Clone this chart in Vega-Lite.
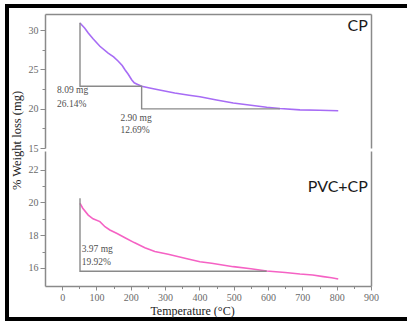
{
  "$schema": "https://vega.github.io/schema/vega-lite/v6.json",
  "width": 400,
  "height": 313,
  "autosize": {"type": "none"},
  "padding": {"left": 7, "top": 6, "right": 0, "bottom": 3},
  "background": "white",
  "config": {
    "view": {"stroke": "#000000", "strokeWidth": 4, "strokeDash": [400, 313, 900]},
    "axis": {"grid": false, "labelFlush": false, "domainColor": "#8a8a8a", "domainWidth": 1.5, "tickColor": "#8a8a8a", "tickWidth": 1, "labelFont": "Liberation Serif", "labelFontSize": 10, "labelColor": "#6a6a6a"},
    "style": {"guide-label": {"font": "Liberation Serif", "fontSize": 10, "fill": "#6a6a6a"}}
  },
  "datasets": {
    "cp": [
      {"t": 51.9, "w": 30.91}, {"t": 66, "w": 30.25}, {"t": 76, "w": 29.64}, {"t": 90, "w": 28.9},
      {"t": 110, "w": 27.95}, {"t": 134, "w": 27.09}, {"t": 150, "w": 26.6}, {"t": 163.5, "w": 26.04},
      {"t": 175, "w": 25.5}, {"t": 183, "w": 24.97}, {"t": 193, "w": 24.35}, {"t": 202.5, "w": 23.7},
      {"t": 210, "w": 23.3}, {"t": 217, "w": 23.15}, {"t": 231.6, "w": 22.85}, {"t": 255, "w": 22.65},
      {"t": 280, "w": 22.42}, {"t": 328, "w": 22.0}, {"t": 370, "w": 21.72}, {"t": 401.5, "w": 21.53},
      {"t": 450, "w": 21.11}, {"t": 498.6, "w": 20.72}, {"t": 550, "w": 20.45}, {"t": 596, "w": 20.18},
      {"t": 634.6, "w": 20.02}, {"t": 693, "w": 19.86}, {"t": 750, "w": 19.8}, {"t": 804.5, "w": 19.74}
    ],
    "pvc": [
      {"t": 51.9, "w": 19.95}, {"t": 60, "w": 19.65}, {"t": 76, "w": 19.23}, {"t": 90, "w": 19.0},
      {"t": 110, "w": 18.83}, {"t": 124.7, "w": 18.52}, {"t": 139, "w": 18.32}, {"t": 160, "w": 18.1},
      {"t": 183, "w": 17.85}, {"t": 210, "w": 17.55}, {"t": 241, "w": 17.24}, {"t": 270, "w": 17.0},
      {"t": 309, "w": 16.84}, {"t": 367, "w": 16.55}, {"t": 401.5, "w": 16.38}, {"t": 435.6, "w": 16.29},
      {"t": 498.6, "w": 16.08}, {"t": 550, "w": 15.95}, {"t": 596, "w": 15.82}, {"t": 650, "w": 15.72},
      {"t": 693, "w": 15.63}, {"t": 730, "w": 15.57}, {"t": 761, "w": 15.47}, {"t": 785, "w": 15.4},
      {"t": 804.5, "w": 15.33}
    ],
    "cpAnn": [
      {"t": 52, "w": 30.95, "o": 0}, {"t": 52, "w": 22.87, "o": 1}, {"t": 231.6, "w": 22.87, "o": 2},
      {"t": 231.6, "w": 19.98, "o": 3}, {"t": 634.6, "w": 19.98, "o": 4}
    ],
    "pvcAnn": [
      {"t": 52, "w": 20.25, "o": 0}, {"t": 52, "w": 15.8, "o": 1}, {"t": 596, "w": 15.8, "o": 2}
    ],
    "cpText": [
      {"t": -15, "w": 22.35, "s": "8.09 mg"}, {"t": -15, "w": 20.54, "s": "26.14%"},
      {"t": 170, "w": 18.88, "s": "2.90 mg"}, {"t": 170, "w": 17.29, "s": "12.69%"}
    ],
    "pvcText": [
      {"t": 57, "w": 17.16, "s": "3.97 mg"}, {"t": 57, "w": 16.38, "s": "19.92%"}
    ],
    "cpLabel": [{"t": 891, "w": 30.47, "s": "CP"}],
    "pvcLabel": [{"t": 891, "w": 20.94, "s": "PVC+CP"}]
  },
  "resolve": {"scale": {"y": "independent"}, "axis": {"x": "independent", "y": "independent"}},
  "layer": [
    {
      "resolve": {"axis": {"x": "independent", "y": "independent"}},
      "layer": [
        {
          "data": {"name": "cp"},
          "mark": {"type": "line", "color": "#a76cf5", "strokeWidth": 1.6},
          "encoding": {
            "x": {"field": "t", "type": "quantitative", "scale": {"domain": [-50, 900], "range": [38, 364]},
                  "axis": {"orient": "top", "offset": -8, "domain": true, "ticks": false, "labels": false, "title": null}},
            "y": {"field": "w", "type": "quantitative", "scale": {"domain": [15, 32.06], "range": [142, 8], "zero": false, "nice": false},
                  "axis": {"orient": "left", "offset": -38, "values": [15, 20, 25, 30], "tickSize": 5, "labelPadding": 2,
                           "labelFont": "Liberation Serif", "labelFontSize": 10, "labelColor": "#6a6a6a",
                           "title": "% Weight loss (mg)", "titleFont": "Liberation Serif", "titleFontSize": 12.5, "titleFontWeight": "normal",
                           "titleColor": "#222222", "titleX": -29, "titleY": 134, "titleAngle": 270, "titleAlign": "center", "titleBaseline": "middle"}}
          }
        },
        {
          "data": {"name": "cpAnn"},
          "mark": {"type": "line", "color": "#8a8a8a", "strokeWidth": 1.4},
          "encoding": {
            "x": {"field": "t", "type": "quantitative", "scale": {"domain": [-50, 900], "range": [38, 364]}, "axis": null},
            "y": {"field": "w", "type": "quantitative", "scale": {"domain": [15, 32.06], "range": [142, 8], "zero": false, "nice": false},
                  "axis": {"orient": "left", "offset": -38, "values": [17.5, 22.5, 27.5], "domain": false, "tickSize": 3, "labels": false, "title": null}},
            "order": {"field": "o", "type": "quantitative"}
          }
        },
        {
          "data": {"name": "cpText"},
          "mark": {"type": "text", "align": "left", "baseline": "middle", "font": "Liberation Serif", "fontSize": 9.5, "color": "#505050"},
          "encoding": {
            "x": {"field": "t", "type": "quantitative", "scale": {"domain": [-50, 900], "range": [38, 364]}, "axis": null},
            "y": {"field": "w", "type": "quantitative", "scale": {"domain": [15, 32.06], "range": [142, 8], "zero": false, "nice": false},
                  "axis": {"orient": "right", "offset": -36, "domain": true, "ticks": false, "labels": false, "title": null}},
            "text": {"field": "s"}
          }
        },
        {
          "data": {"name": "cpLabel"},
          "mark": {"type": "text", "align": "right", "baseline": "middle", "font": "Lato", "fontSize": 16, "color": "#1a1a1a"},
          "encoding": {
            "x": {"field": "t", "type": "quantitative", "scale": {"domain": [-50, 900], "range": [38, 364]}, "axis": null},
            "y": {"field": "w", "type": "quantitative", "scale": {"domain": [15, 32.06], "range": [142, 8], "zero": false, "nice": false}, "axis": null},
            "text": {"field": "s"}
          }
        }
      ]
    },
    {
      "resolve": {"axis": {"x": "independent", "y": "independent"}},
      "layer": [
        {
          "data": {"name": "pvc"},
          "mark": {"type": "line", "color": "#f562c4", "strokeWidth": 1.6},
          "encoding": {
            "x": {"field": "t", "type": "quantitative", "scale": {"domain": [-50, 900], "range": [38, 364]},
                  "axis": {"orient": "bottom", "offset": -33, "values": [0, 100, 200, 300, 400, 500, 600, 700, 800, 900], "tickSize": 4, "labelPadding": 2,
                           "labelFont": "Liberation Serif", "labelFontSize": 10, "labelColor": "#6a6a6a",
                           "title": "Temperature (°C)", "titleFont": "Liberation Serif", "titleFontSize": 12, "titleFontWeight": "normal", "titleColor": "#222222",
                           "titleX": 185, "titleY": 28, "titleAlign": "center", "titleBaseline": "alphabetic"}},
            "y": {"field": "w", "type": "quantitative", "scale": {"domain": [14.9, 23.14], "range": [280, 145], "zero": false, "nice": false},
                  "axis": {"orient": "left", "offset": -38, "values": [16, 18, 20, 22], "tickSize": 5, "labelPadding": 2,
                           "labelFont": "Liberation Serif", "labelFontSize": 10, "labelColor": "#6a6a6a", "title": null}}
          }
        },
        {
          "data": {"name": "pvcAnn"},
          "mark": {"type": "line", "color": "#8a8a8a", "strokeWidth": 1.4},
          "encoding": {
            "x": {"field": "t", "type": "quantitative", "scale": {"domain": [-50, 900], "range": [38, 364]},
                  "axis": {"orient": "bottom", "offset": -33, "values": [50, 150, 250, 350, 450, 550, 650, 750, 850], "domain": false, "tickSize": 2.5, "labels": false, "title": null}},
            "y": {"field": "w", "type": "quantitative", "scale": {"domain": [14.9, 23.14], "range": [280, 145], "zero": false, "nice": false},
                  "axis": {"orient": "left", "offset": -38, "values": [17, 19, 21], "domain": false, "tickSize": 3, "labels": false, "title": null}},
            "order": {"field": "o", "type": "quantitative"}
          }
        },
        {
          "data": {"name": "pvcText"},
          "mark": {"type": "text", "align": "left", "baseline": "middle", "font": "Liberation Serif", "fontSize": 9.5, "color": "#505050"},
          "encoding": {
            "x": {"field": "t", "type": "quantitative", "scale": {"domain": [-50, 900], "range": [38, 364]}, "axis": null},
            "y": {"field": "w", "type": "quantitative", "scale": {"domain": [14.9, 23.14], "range": [280, 145], "zero": false, "nice": false},
                  "axis": {"orient": "right", "offset": -36, "domain": true, "ticks": false, "labels": false, "title": null}},
            "text": {"field": "s"}
          }
        },
        {
          "data": {"name": "pvcLabel"},
          "mark": {"type": "text", "align": "right", "baseline": "middle", "font": "Lato", "fontSize": 16, "color": "#1a1a1a"},
          "encoding": {
            "x": {"field": "t", "type": "quantitative", "scale": {"domain": [-50, 900], "range": [38, 364]}, "axis": null},
            "y": {"field": "w", "type": "quantitative", "scale": {"domain": [14.9, 23.14], "range": [280, 145], "zero": false, "nice": false}, "axis": null},
            "text": {"field": "s"}
          }
        }
      ]
    }
  ]
}
